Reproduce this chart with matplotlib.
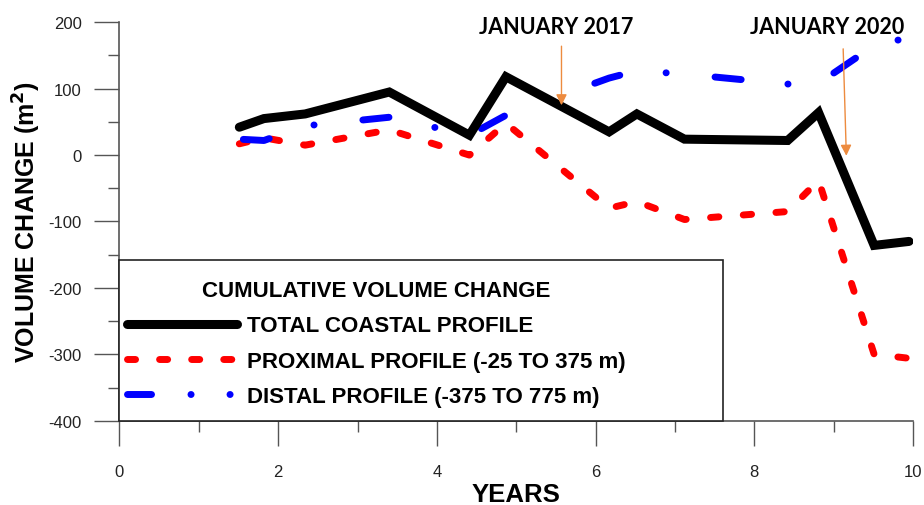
import matplotlib
matplotlib.use("Agg")
import matplotlib.pyplot as plt
from matplotlib.lines import Line2D
from matplotlib.patches import Rectangle
from matplotlib.ticker import MultipleLocator

plt.rcParams['font.family'] = ['Liberation Sans', 'DejaVu Sans']
plt.rcParams['lines.scale_dashes'] = False
plt.rcParams['axes.unicode_minus'] = False

# cumulative volume change
years = [1.51, 1.82, 2.34, 3.40, 4.41, 4.87, 6.17, 6.52, 7.12, 8.42, 8.81, 9.51, 9.95]
total = [42, 55, 62, 95, 30, 118, 35, 62, 24, 22, 64, -136, -130]
proximal = [17, 26, 15, 38, 0, 48, -80, -70, -97, -85, -38, -300, -306]
distal = [24, 22, 44, 57, 30, 60, 116, 127, 122, 107, 108, 165, 177]

labels = ['TOTAL COASTAL PROFILE',
          'PROXIMAL PROFILE (-25 TO 375 m)',
          'DISTAL PROFILE (-375 TO 775 m)']
legend_title = 'CUMULATIVE VOLUME CHANGE'

# event markers
events = ['JANUARY 2017', 'JANUARY 2020']
event_text_x = [5.5, 8.92]
event_tail = [(5.57, 164), (9.12, 160)]
event_tip = [(5.57, 75), (9.16, -1)]

fig = plt.figure(figsize=(9.24, 5.06), dpi=100)
ax = fig.add_axes([119.5 / 924, 1 - 421.7 / 506, 793.5 / 924, 398.4 / 506])

# dash patterns in points
red_dash = (0, (6, 17.6))
blue_dash = (85.2, (18.9, 33.8, 0.1, 35.3))

ax.plot(years, total, color='black', lw=6.5, solid_capstyle='round',
        solid_joinstyle='miter', zorder=4)
ax.plot(years, proximal, color='#ff0000', lw=5, linestyle=red_dash,
        dash_capstyle='round', zorder=3)
ax.plot(years, distal, color='#0000ff', lw=5, linestyle=blue_dash,
        dash_capstyle='round', zorder=3)

ax.set_xlim(0, 10)
ax.set_ylim(-400, 200)
ax.xaxis.set_major_locator(MultipleLocator(2))
ax.xaxis.set_minor_locator(MultipleLocator(1))
ax.yaxis.set_major_locator(MultipleLocator(100))
ax.yaxis.set_minor_locator(MultipleLocator(50))
for s in ['top', 'right']:
    ax.spines[s].set_visible(False)
for s in ['left', 'bottom']:
    ax.spines[s].set_color('#555555')
    ax.spines[s].set_linewidth(1.2)
ax.tick_params(which='major', length=18, width=1, color='#555555',
               labelsize=12, labelcolor='#222222')
ax.tick_params(axis='y', which='major', pad=9)
ax.tick_params(axis='x', which='major', pad=13)
ax.tick_params(which='minor', length=8, width=1, color='#555555')

ax.set_xlabel('YEARS', fontsize=18.5, fontweight='bold', labelpad=2)
ax.set_ylabel('VOLUME CHANGE (m$^\\mathbf{2}$)', fontsize=18,
              fontweight='bold', labelpad=4)

for name, tx, tail, tip in zip(events, event_text_x, event_tail, event_tip):
    ax.text(tx, 194, name, ha='center', va='center', fontsize=15.5,
            fontweight='bold', family=['Lato', 'DejaVu Sans'], zorder=6)
    ax.annotate('', xy=tip, xytext=tail,
                arrowprops=dict(arrowstyle='-|>', color='#ED8B3F', lw=1,
                                mutation_scale=16, shrinkA=0, shrinkB=0),
                zorder=6)

# legend box
ax.add_patch(Rectangle((0, 0), 0.761, 0.403, transform=ax.transAxes,
                       facecolor='white', edgecolor='#222222', lw=1.2,
                       zorder=5, clip_on=False))

handles = [
    Line2D([], [], color='black', lw=6.5, solid_capstyle='round'),
    Line2D([], [], color='#ff0000', lw=5, linestyle=(0, (5.8, 17.3)),
           dash_capstyle='round'),
    Line2D([], [], color='#0000ff', lw=5,
           linestyle=(0, (17.3, 28.4, 0.1, 28, 0.1, 100)),
           dash_capstyle='round'),
]
leg_font = {'family': ['Liberation Sans', 'DejaVu Sans'], 'weight': 'bold', 'size': 16}
leg = ax.legend(handles, labels, title=legend_title, loc='upper left',
                bbox_to_anchor=(0.0095, 0.353), frameon=False,
                borderpad=0, borderaxespad=0, handlelength=4.95,
                handletextpad=0.45, labelspacing=0.64,
                prop=leg_font, title_fontproperties=leg_font)
leg.set_zorder(6)

fig.savefig('out.png', dpi=100)
